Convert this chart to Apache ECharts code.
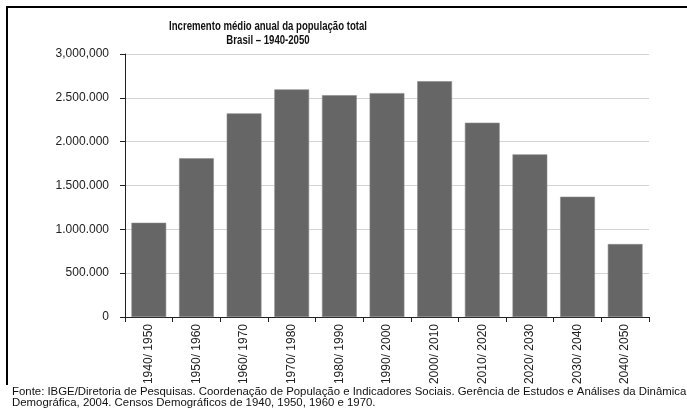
<!DOCTYPE html>
<html>
<head>
<meta charset="utf-8">
<script src="https://cdn.jsdelivr.net/npm/echarts@6/dist/echarts.min.js"></script>
<style>html,body{margin:0;padding:0;background:#fff}#c{width:687px;height:412px}</style>
</head>
<body>
<div id="c"></div>
<script>
const categories = ['1940/ 1950','1950/ 1960','1960/ 1970','1970/ 1980','1980/ 1990','1990/ 2000','2000/ 2010','2010/ 2020','2020/ 2030','2030/ 2040','2040/ 2050'];
const values = [1075000, 1810000, 2323000, 2596000, 2530000, 2554000, 2690000, 2216000, 1855000, 1372000, 832000];
const yTickLabels = ['0','500.000','1.000.000','1.500.000','2.000.000','2.500.000','3,000,000'];
const titleLines = ['Incremento médio anual da população total', 'Brasil – 1940-2050'];
const sourceLines = ['Fonte: IBGE/Diretoria de Pesquisas. Coordenação de População e Indicadores Sociais. Gerência de Estudos e Análises da Dinâmica', 'Demográfica, 2004. Censos Demográficos de 1940, 1950, 1960 e 1970.'];

const FONT = '"Liberation Sans", Arial, sans-serif';
const chart = echarts.init(document.getElementById('c'), null, {renderer: 'canvas'});
chart.setOption({
  animation: false,
  backgroundColor: '#fff',
  grid: {left: 125, right: 38, top: 54, bottom: 95},
  xAxis: {
    type: 'category', data: categories,
    axisLine: {lineStyle: {color: '#222', width: 1}},
    axisTick: {show: true, length: 5, alignWithLabel: false, lineStyle: {color: '#222'}},
    axisLabel: {rotate: 90, margin: 7, interval: 0, fontFamily: FONT, fontSize: 12, color: '#222'}
  },
  yAxis: {
    type: 'value', min: 0, max: 3000000, interval: 500000,
    axisLine: {show: true, lineStyle: {color: '#222', width: 1}},
    axisTick: {show: true, length: 5, lineStyle: {color: '#222'}},
    splitLine: {lineStyle: {color: '#d4d4d4', width: 1}},
    axisLabel: {
      margin: 16, fontFamily: FONT, fontSize: 12, color: '#222',
      formatter: function (v) { return yTickLabels[Math.round(v / 500000)]; }
    }
  },
  series: [{
    type: 'bar', data: values, barCategoryGap: '27%',
    itemStyle: {color: '#666666', borderColor: '#8a8a8a', borderWidth: 0.6}
  }],
  graphic: [
    {type: 'line', shape: {x1: 6, y1: 7, x2: 687, y2: 7}, style: {stroke: '#000', lineWidth: 2}},
    {type: 'line', shape: {x1: 7, y1: 6, x2: 7, y2: 385}, style: {stroke: '#000', lineWidth: 2}},
    {type: 'text', x: 268, y: 20, scaleX: 0.8,
     style: {text: titleLines.join('\n'), align: 'center', verticalAlign: 'top', font: 'bold 12px "Liberation Sans", Arial, sans-serif', fill: '#111', lineHeight: 14}},
    {type: 'text', x: 12, y: 386,
     style: {text: sourceLines.join('\n'), verticalAlign: 'top', font: '11.4px "Liberation Sans", Arial, sans-serif', fill: '#111', lineHeight: 11.5}}
  ]
});
</script>
</body>
</html>
